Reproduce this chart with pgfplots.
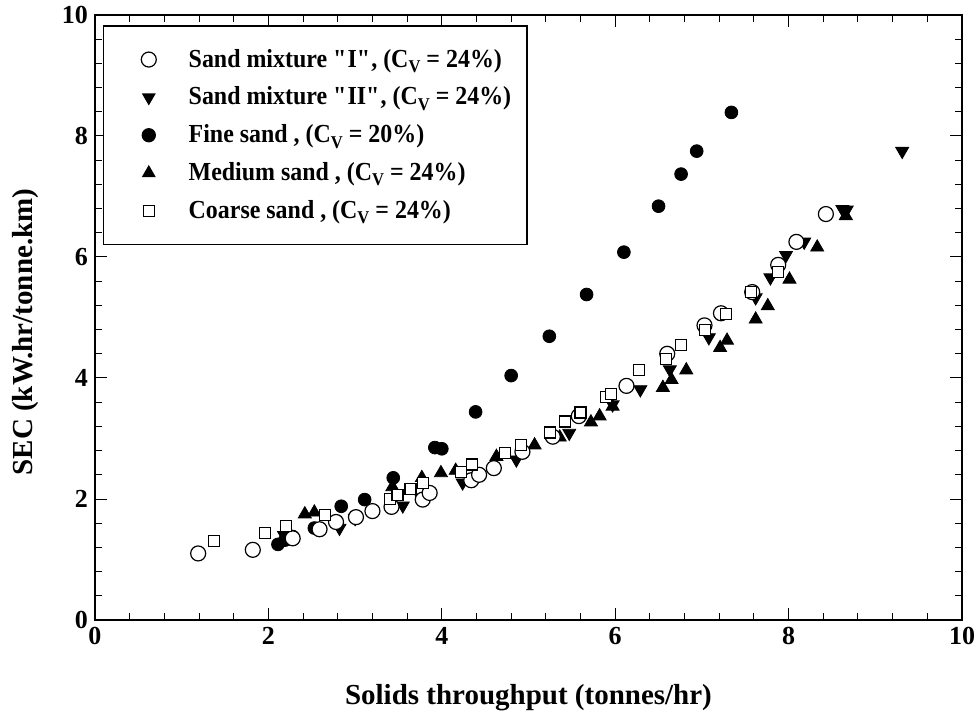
\documentclass[border=0pt]{standalone}
\usepackage{fontspec}
\setmainfont{Liberation Serif}
\newfontfamily\legfont{Liberation Serif}[FakeStretch=0.92]
\usepackage{pgfplots}
\pgfplotsset{compat=1.18}
\newcommand\cv{C\raisebox{-0.45ex}{\small V}}
\newcommand\q{\textquotedbl}

\pgfplotstableread{
x y
1.19 1.10
1.82 1.16
2.28 1.35
2.59 1.50
2.78 1.62
3.01 1.70
3.20 1.80
3.42 1.87
3.78 1.99
3.86 2.10
4.34 2.31
4.43 2.40
4.60 2.51
4.93 2.78
5.28 3.03
5.58 3.37
6.13 3.87
6.60 4.40
7.03 4.87
7.22 5.07
7.58 5.42
7.88 5.87
8.09 6.25
8.43 6.71
}\mixI

\pgfplotstableread{
x y
2.18 1.40
2.82 1.52
3.00 1.68
3.55 1.89
3.76 2.02
4.24 2.27
4.86 2.65
5.47 3.09
5.97 3.56
6.29 3.81
6.63 4.14
7.08 4.67
7.62 5.33
7.79 5.66
7.97 6.03
8.18 6.25
8.62 6.79
8.67 6.78
9.31 7.75
}\mixII

\pgfplotstableread{
x y
2.11 1.25
2.19 1.32
2.28 1.38
2.53 1.52
2.84 1.88
3.11 1.99
3.44 2.35
3.92 2.85
4.00 2.83
4.39 3.44
4.80 4.04
5.24 4.69
5.67 5.38
6.10 6.08
6.50 6.84
6.76 7.37
6.94 7.75
7.34 8.39
}\fine

\pgfplotstableread{
x y
2.42 1.75
2.53 1.78
3.43 2.20
3.77 2.35
3.99 2.43
4.16 2.47
4.63 2.70
5.07 2.89
5.36 3.02
5.72 3.27
5.82 3.37
5.97 3.53
6.55 3.84
6.65 3.97
6.82 4.13
7.21 4.50
7.29 4.62
7.62 4.97
7.76 5.19
8.01 5.63
8.33 6.16
8.66 6.68
}\medium

\pgfplotstableread{
x y
1.37 1.30
1.96 1.44
2.20 1.56
2.65 1.74
3.40 2.00
3.49 2.07
3.64 2.16
3.78 2.27
4.22 2.45
4.35 2.57
4.73 2.76
4.91 2.89
5.25 3.10
5.42 3.28
5.60 3.43
5.89 3.69
5.95 3.74
6.27 4.13
6.59 4.32
6.76 4.54
7.04 4.79
7.28 5.06
7.57 5.42
7.88 5.75
}\coarse

\begin{document}
\begin{tikzpicture}[font=\fontsize{13}{15}\selectfont\bfseries]
\begin{axis}[
  scale only axis, width=433.5pt, height=302.5pt,
  xmin=0, xmax=10, ymin=0, ymax=10,
  xtick={0,2,...,10}, ytick={0,2,...,10},
  minor tick num=4,
  tick align=inside, tick pos=both,
  major tick length=6pt, minor tick length=3.5pt,
  axis line style={line width=0.75pt},
  every tick/.style={black, line width=0.5pt},
  /pgf/number format/assume math mode=true,
  xlabel={Solids throughput (tonnes/hr)},
  ylabel={SEC (kW.hr/tonne.km)},
  label style={font=\fontsize{14.5}{16}\selectfont\bfseries},
  xlabel style={at={(axis description cs:0.5,-0.129)}, anchor=center},
  ylabel style={at={(axis description cs:-0.0807,0.476)}, anchor=center},
  legend style={at={(rel axis cs:0.0092,0.983)}, anchor=north west,
    draw=black, line width=0.75pt, inner xsep=6pt, inner ysep=9.5pt,
    row sep=4.4pt, cells={anchor=west},
    font=\legfont\fontsize{13}{15}\selectfont\bfseries},
  legend cell align=left,
  lim/.style={legend image code/.code={\path[draw=none,fill=none] (-8pt,0) -- (26.5pt,0); \draw[##1] plot coordinates {(0.3cm,0cm)};}},
]
\addlegendimage{only marks, mark=*, mark size=3.75pt, mark options={draw=black, fill=white, line width=0.6pt}, lim}
\addlegendentry{Sand mixture \q I\q, (\cv\ = 24\%)}
\addlegendimage{only marks, mark=triangle*, mark size=3.3pt, mark options={rotate=180, draw=black, fill=black}, lim}
\addlegendentry{Sand mixture \q II\q, (\cv\ = 24\%)}
\addlegendimage{only marks, mark=*, mark size=3.2pt, mark options={draw=black, fill=black}, lim}
\addlegendentry{Fine sand , (\cv\ = 20\%)}
\addlegendimage{only marks, mark=triangle*, mark size=3.3pt, mark options={draw=black, fill=black}, lim}
\addlegendentry{Medium sand , (\cv\ = 24\%)}
\addlegendimage{only marks, mark=square*, mark size=2.75pt, mark options={draw=black, fill=white, line width=0.6pt}, lim}
\addlegendentry{Coarse sand , (\cv\ = 24\%)}

\addplot[forget plot, only marks, mark=*, mark size=3.2pt, mark options={draw=black, fill=black}] table {\fine};
\addplot[forget plot, only marks, mark=triangle*, mark size=3.75pt, mark options={draw=black, fill=black}] table {\medium};
\addplot[forget plot, only marks, mark=triangle*, mark size=3.75pt, mark options={rotate=180, draw=black, fill=black}] table {\mixII};
\addplot[forget plot, only marks, mark=*, mark size=3.75pt, mark options={draw=black, fill=white, line width=0.6pt}] table {\mixI};
\addplot[forget plot, only marks, mark=square*, mark size=2.75pt, mark options={draw=black, fill=white, line width=0.6pt}] table {\coarse};
\end{axis}
\pgfresetboundingbox
\path[use as bounding box] (current axis.south west) ++(-47.5pt,-48.5pt) rectangle ++(489.5pt,358.5pt);
\end{tikzpicture}
\end{document}
